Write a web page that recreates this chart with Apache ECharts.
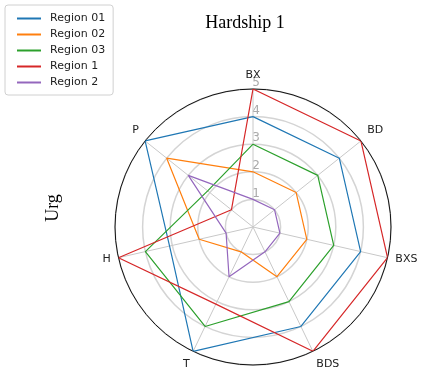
<!DOCTYPE html>
<html>
<head>
<meta charset="utf-8">
<script src="https://cdn.jsdelivr.net/npm/echarts@6/dist/echarts.min.js"></script>
<style>
html, body { margin: 0; padding: 0; background: #fff; }
#main { width: 422px; height: 377px; }
</style>
</head>
<body>
<div id="main"></div>
<script>
var categories = ['BX', 'BD', 'BXS', 'BDS', 'T', 'H', 'P'];
var seriesNames = ['Region 01', 'Region 02', 'Region 03', 'Region 1', 'Region 2'];
var region01 = [4, 4, 4, 4, 5, 3.1, 5];
var region02 = [2, 2, 2, 2, 1, 2, 4];
var region03 = [3, 3, 3, 3, 4, 4, 2.1];
var region1 = [5, 5, 5, 5, 3.1, 5, 1];
var region2 = [1, 1, 1, 1, 2, 1, 3];
var colors = ['#1f77b4', '#ff7f0e', '#2ca02c', '#d62728', '#9467bd'];

// polygon closed by repeating the first point at angle 7
function toPolar(vals) {
    var out = vals.map(function (v, i) { return [v, i]; });
    out.push([vals[0], vals.length]);
    return out;
}

var allData = [region01, region02, region03, region1, region2];

var myChart = echarts.init(document.getElementById('main'));
option = {
    animation: false,
    color: colors,
    title: {
        text: 'Hardship 1',
        left: 240,
        top: 9,
        textAlign: 'center',
        textStyle: {
            fontFamily: 'Liberation Serif',
            fontWeight: 'normal',
            fontSize: 18,
            color: '#000'
        }
    },
    legend: {
        orient: 'vertical',
        left: 5,
        top: 5,
        padding: [8, 8, 7, 12],
        itemGap: 5,
        itemWidth: 24,
        itemHeight: 2,
        icon: 'rect',
        borderColor: '#d0d0d0',
        borderWidth: 1,
        borderRadius: 3,
        textStyle: {
            fontFamily: 'DejaVu Sans',
            fontSize: 11,
            color: '#222',
            padding: [0, 0, 0, 4]
        },
        data: seriesNames
    },
    graphic: [{
        type: 'text',
        x: 53,
        y: 208,
        rotation: Math.PI / 2,
        style: {
            text: 'Urg',
            font: '18px "Liberation Serif"',
            fill: '#000',
            align: 'center',
            verticalAlign: 'middle'
        }
    }],
    polar: {
        center: [253, 227],
        radius: 138
    },
    angleAxis: {
        type: 'value',
        min: 0,
        max: 7,
        interval: 1,
        startAngle: 90,
        clockwise: true,
        z: 3,
        axisLine: { lineStyle: { color: '#111', width: 1 } },
        axisTick: { show: false },
        axisLabel: {
            margin: 8,
            fontFamily: 'DejaVu Sans',
            fontSize: 11,
            color: '#222',
            formatter: function (v) { return categories[v] || ''; }
        },
        splitLine: { lineStyle: { color: '#c8c8c8', width: 1 } }
    },
    radiusAxis: {
        type: 'value',
        min: 0,
        max: 5,
        interval: 1,
        axisLine: { show: false },
        axisTick: { show: false },
        axisLabel: {
            margin: -7,
            fontFamily: 'DejaVu Sans',
            fontSize: 12,
            color: '#aaa',
            verticalAlign: 'bottom',
            formatter: function (v) { return v === 0 ? '' : v; }
        },
        splitLine: { lineStyle: { color: '#d4d4d4', width: 1.5 } }
    },
    series: allData.map(function (vals, k) {
        return {
            name: seriesNames[k],
            type: 'line',
            coordinateSystem: 'polar',
            showSymbol: false,
            symbol: 'none',
            lineStyle: { width: 1.2 },
            data: toPolar(vals)
        };
    })
};
myChart.setOption(option);
</script>
</body>
</html>
